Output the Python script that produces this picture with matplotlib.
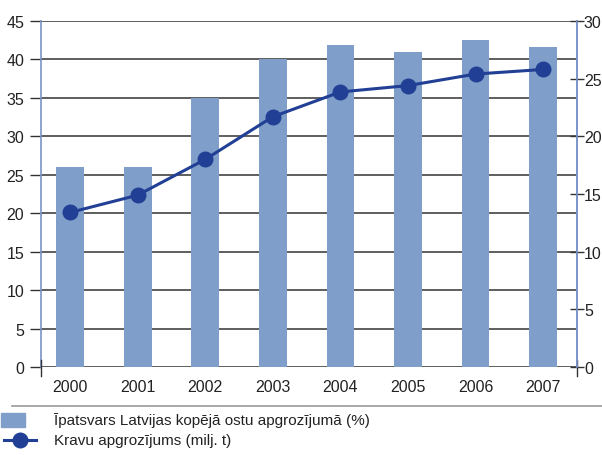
import matplotlib
matplotlib.use("Agg")
import matplotlib.pyplot as plt
from matplotlib.lines import Line2D
from matplotlib.patches import Rectangle

# data
years = ["2000", "2001", "2002", "2003", "2004", "2005", "2006", "2007"]
share_pct = [26.0, 26.0, 35.0, 40.0, 41.9, 41.0, 42.5, 41.6]
cargo_mt = [13.4, 14.9, 18.0, 21.7, 23.85, 24.4, 25.4, 25.8]
left_ticks = [0, 5, 10, 15, 20, 25, 30, 35, 40, 45]
right_ticks = [0, 5, 10, 15, 20, 25, 30]
legend_labels = ["Īpatsvars Latvijas kopējā ostu apgrozījumā (%)",
                 "Kravu apgrozījums (milj. t)"]

BAR = "#7f9fca"
LINE = "#213f94"
SPINE = "#7b93c8"
TXT = "#222222"
GRID = "#333333"

plt.rcParams["font.family"] = ["Liberation Sans", "DejaVu Sans"]
W, H = 602, 456
fig = plt.figure(figsize=(W / 100, H / 100), dpi=100)
ax = fig.add_axes([41 / W, 1 - 368 / H, 536 / W, 346 / H])

x = list(range(len(years)))
ax.bar(x, share_pct, width=0.41, color=BAR, zorder=3)
ax.set_xlim(-0.43, 7.5)
ax.set_ylim(0, 45)
ax.set_yticks(left_ticks)
ax.yaxis.grid(True, color=GRID, lw=1.1, zorder=1)
ax.set_axisbelow(True)
ax.tick_params(axis="y", direction="out", length=8, width=1, color=GRID,
               labelsize=11.5, labelcolor=TXT, pad=4)
ax.set_xticks(x, years)
ax.tick_params(axis="x", length=0, labelsize=11.5, labelcolor=TXT, pad=9)
for s in ("top", "bottom"):
    ax.spines[s].set_visible(False)
for s in ("left", "right"):
    ax.spines[s].set_color(SPINE)
    ax.spines[s].set_linewidth(1.2)

ax2 = ax.twinx()
ax2.plot(x, cargo_mt, color=LINE, lw=2.2, marker="o", ms=10.5, zorder=4)
ax2.set_ylim(0, 30)
ax2.set_yticks(right_ticks)
ax2.tick_params(axis="y", direction="inout", length=10, width=1, color=GRID,
                labelsize=11.5, labelcolor=TXT, pad=0)
for s in ("top", "bottom", "left"):
    ax2.spines[s].set_visible(False)
ax2.spines["right"].set_color(SPINE)
ax2.spines["right"].set_linewidth(1.2)

# small dark stubs below the zero line at both spines
for xa in (0, 1):
    ax.plot([xa, xa], [-0.025, 0.02], transform=ax.transAxes, color=GRID,
            lw=1, clip_on=False, zorder=5)

# separator line under the year labels
fig.add_artist(Line2D([12 / W, 1], [1 - 407 / H] * 2, color="#999999", lw=1.2))

# legend drawn by hand
fig.add_artist(Rectangle((1 / W, 1 - 428 / H), 24 / W, 14 / H, color=BAR))
fig.text(54 / W, 1 - 421 / H, legend_labels[0], fontsize=11, color=TXT, va="center")
fig.add_artist(Line2D([4 / W, 36 / W], [1 - 441 / H] * 2, color=LINE, lw=2.2))
fig.add_artist(Line2D([20 / W], [1 - 441 / H], color=LINE, marker="o", ms=10.5))
fig.text(54 / W, 1 - 441 / H, legend_labels[1], fontsize=11, color=TXT, va="center")

fig.savefig("out.png", dpi=100)
